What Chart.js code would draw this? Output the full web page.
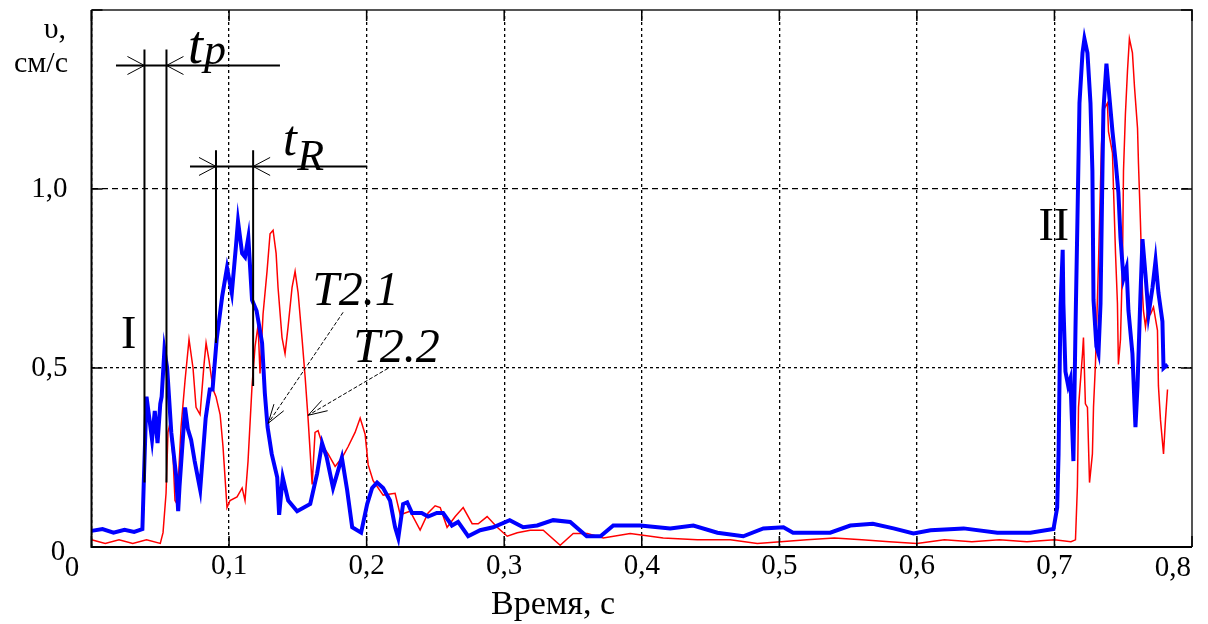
<!DOCTYPE html>
<html>
<head>
<meta charset="utf-8">
<script src="https://cdn.jsdelivr.net/npm/chart.js@4.4.0/dist/chart.umd.min.js"></script>
<style>
  html, body { margin: 0; padding: 0; background: #fff; }
  #wrap { width: 1208px; height: 624px; }
</style>
</head>
<body>
<div id="wrap"><canvas id="mycanvas" width="1208" height="624"></canvas></div>
<script>
// time, s  /  velocity, cm/s
var blueT = [
  0, 0.008, 0.016, 0.024, 0.031, 0.037, 0.038, 0.040, 0.042, 0.044,
  0.046, 0.048, 0.050, 0.051, 0.053, 0.055, 0.058, 0.0615, 0.063, 0.064,
  0.068, 0.070, 0.0724, 0.075, 0.079, 0.083, 0.086, 0.088, 0.091, 0.095,
  0.0985, 0.102, 0.105, 0.1065, 0.1095, 0.1116, 0.114, 0.1167, 0.120, 0.124,
  0.126, 0.128, 0.131, 0.135, 0.1364, 0.139, 0.143, 0.1495, 0.159, 0.164,
  0.1676, 0.171, 0.1756, 0.182, 0.1858, 0.1895, 0.196, 0.2004, 0.204, 0.2076,
  0.212, 0.217, 0.2207, 0.223, 0.2265, 0.2295, 0.233, 0.240, 0.2447, 0.251,
  0.2556, 0.262, 0.2665, 0.2738, 0.2825, 0.292, 0.304, 0.3138, 0.324, 0.3356,
  0.348, 0.360, 0.370, 0.3793, 0.3989, 0.4207, 0.4375, 0.455, 0.4738, 0.4884,
  0.503, 0.510, 0.537, 0.5516, 0.568, 0.583, 0.5975, 0.610, 0.634, 0.6585,
  0.6825, 0.6993, 0.702, 0.703, 0.7044, 0.706, 0.7065, 0.708, 0.710, 0.7116,
  0.7138, 0.7153, 0.7167, 0.7182, 0.7204, 0.7218, 0.724, 0.7262, 0.7276, 0.7284,
  0.7305, 0.732, 0.7335, 0.7349, 0.7356, 0.7378, 0.7393, 0.7422, 0.7444, 0.7465,
  0.748, 0.7502, 0.7524, 0.7538, 0.7567, 0.7589, 0.7604, 0.7625, 0.764, 0.7662,
  0.7684, 0.7713, 0.7735, 0.7756, 0.7785, 0.7793, 0.7822
];
var blueV = [
  0.045, 0.05, 0.04, 0.048, 0.042, 0.05, 0.18, 0.42, 0.36, 0.30,
  0.38, 0.29, 0.40, 0.42, 0.55, 0.50, 0.32, 0.20, 0.10, 0.17,
  0.39, 0.33, 0.30, 0.24, 0.16, 0.36, 0.44, 0.44, 0.58, 0.70,
  0.78, 0.71, 0.84, 0.91, 0.82, 0.81, 0.865, 0.69, 0.66, 0.57,
  0.43, 0.335, 0.26, 0.195, 0.09, 0.195, 0.13, 0.10, 0.12, 0.205,
  0.29, 0.25, 0.165, 0.25, 0.16, 0.055, 0.04, 0.12, 0.165, 0.18,
  0.165, 0.13, 0.055, 0.025, 0.12, 0.125, 0.095, 0.095, 0.085, 0.095,
  0.095, 0.06, 0.07, 0.03, 0.047, 0.055, 0.075, 0.055, 0.06, 0.075,
  0.07, 0.03, 0.03, 0.06, 0.06, 0.052, 0.06, 0.04, 0.03, 0.052,
  0.055, 0.04, 0.04, 0.06, 0.065, 0.052, 0.038, 0.047, 0.052, 0.04,
  0.04, 0.05, 0.11, 0.26, 0.67, 0.83, 0.68, 0.49, 0.45, 0.47,
  0.24, 0.61, 0.91, 1.24, 1.38, 1.42, 1.38, 1.24, 1.05, 0.69,
  0.56, 0.54, 0.68, 1.05, 1.22, 1.35, 1.285, 1.16, 1.08, 0.99,
  0.865, 0.75, 0.78, 0.66, 0.54, 0.335, 0.45, 0.70, 0.86, 0.76,
  0.65, 0.725, 0.80, 0.71, 0.63, 0.50, 0.51
];
var redT = [
  0, 0.01, 0.02, 0.03, 0.04, 0.05, 0.052, 0.0542, 0.0556, 0.057,
  0.0593, 0.0607, 0.0622, 0.0651, 0.068, 0.0709, 0.0738, 0.076, 0.0789, 0.0818,
  0.0833, 0.0855, 0.0884, 0.0905, 0.0935, 0.0956, 0.0985, 0.1007, 0.1058, 0.1095,
  0.1116, 0.1138, 0.1167, 0.1189, 0.1211, 0.1225, 0.1247, 0.1276, 0.1298, 0.132,
  0.1342, 0.1356, 0.1385, 0.1407, 0.1429, 0.1458, 0.148, 0.1502, 0.1531, 0.1553,
  0.1575, 0.1604, 0.1625, 0.1647, 0.1684, 0.172, 0.1771, 0.1822, 0.1865, 0.1916,
  0.1953, 0.1989, 0.2011, 0.2047, 0.212, 0.2207, 0.2244, 0.2316, 0.2389, 0.2447,
  0.2498, 0.2535, 0.2585, 0.2644, 0.2702, 0.2767, 0.2811, 0.2876, 0.2949, 0.3022,
  0.3095, 0.3189, 0.3284, 0.3407, 0.3502, 0.3604, 0.372, 0.3916, 0.4156, 0.4404,
  0.4644, 0.484, 0.4985, 0.52, 0.54, 0.56, 0.58, 0.60, 0.62, 0.64,
  0.66, 0.68, 0.70, 0.712, 0.7153, 0.7167, 0.7175, 0.7204, 0.7211, 0.7225,
  0.724, 0.7255, 0.7276, 0.7284, 0.7298, 0.732, 0.7342, 0.7356, 0.7385, 0.7393,
  0.7422, 0.7429, 0.7444, 0.7458, 0.7465, 0.748, 0.7495, 0.7502, 0.7516, 0.7531,
  0.7545, 0.7567, 0.7582, 0.7604, 0.7611, 0.7625, 0.764, 0.7647, 0.7662, 0.7676,
  0.7698, 0.772, 0.7749, 0.7756, 0.7771, 0.7793, 0.7807, 0.7822
];
var redV = [
  0.02, 0.01, 0.02, 0.01, 0.02, 0.01, 0.04, 0.15, 0.32, 0.345,
  0.25, 0.13, 0.12, 0.335, 0.465, 0.58, 0.50, 0.39, 0.37, 0.51,
  0.57, 0.52, 0.44, 0.42, 0.37, 0.28, 0.11, 0.13, 0.14, 0.165,
  0.13, 0.24, 0.45, 0.56, 0.62, 0.485, 0.65, 0.77, 0.875, 0.885,
  0.82, 0.725, 0.585, 0.54, 0.615, 0.725, 0.77, 0.71, 0.58, 0.475,
  0.355, 0.175, 0.32, 0.325, 0.28, 0.26, 0.225, 0.25, 0.28, 0.32,
  0.36, 0.315, 0.23, 0.185, 0.145, 0.15, 0.09, 0.10, 0.047, 0.095,
  0.115, 0.11, 0.055, 0.085, 0.11, 0.065, 0.065, 0.085, 0.055, 0.03,
  0.04, 0.047, 0.047, 0.005, 0.038, 0.038, 0.025, 0.038, 0.025, 0.02,
  0.02, 0.01, 0.014, 0.02, 0.025, 0.02, 0.015, 0.01, 0.02, 0.015,
  0.02, 0.015, 0.02, 0.015, 0.02, 0.17, 0.39, 0.54, 0.585, 0.40,
  0.39, 0.18, 0.26, 0.39, 0.51, 0.79, 1.125, 1.22, 1.24, 1.16,
  1.10, 1.005, 0.82, 0.68, 0.51, 0.58, 0.80, 1.05, 1.21, 1.33,
  1.42, 1.38, 1.285, 1.17, 1.07, 0.91, 0.71, 0.66, 0.615, 0.66,
  0.65, 0.67, 0.605, 0.45, 0.355, 0.26, 0.355, 0.44
];
var xTicks = [0, 0.1, 0.2, 0.3, 0.4, 0.5, 0.6, 0.7, 0.8];
var yTicks = [0, 0.5, 1.0, 1.5];

// annotations in data units: t_p / t_R dimension lines and pointer arrows
var dimLines = [
  [0.0385, 1.39, 0.0385, 0.18], [0.0545, 1.39, 0.0545, 0.18], [0.0178, 1.345, 0.137, 1.345],
  [0.0905, 1.108, 0.0905, 0.57], [0.1175, 1.108, 0.1175, 0.45], [0.0716, 1.063, 0.2004, 1.063]
];
var dimArrows = [[0.0385, 1.345, 1], [0.0545, 1.345, -1], [0.0905, 1.063, 1], [0.1175, 1.063, -1]];
var pointers = [[0.1829, 0.6556, 0.1284, 0.3455], [0.2156, 0.4992, 0.1575, 0.3679]];
var notes = [
  {text: 'I', x: 0.0215, y: 0.5551, font: '46px "Liberation Serif"'},
  {text: 'II', x: 0.6884, y: 0.8567, font: '46px "Liberation Serif"'},
  {text: 'T2.1', x: 0.1604, y: 0.6751, font: 'italic 48px "Liberation Serif"'},
  {text: 'T2.2', x: 0.1902, y: 0.5159, font: 'italic 48px "Liberation Serif"'},
  {text: 't', x: 0.0702, y: 1.351, font: 'italic 54px "Liberation Serif"'},
  {text: 'p', x: 0.0818, y: 1.348, font: 'italic 44px "Liberation Serif"'},
  {text: 't', x: 0.1393, y: 1.0941, font: 'italic 50px "Liberation Serif"'},
  {text: 'R', x: 0.1495, y: 1.0522, font: 'italic 44px "Liberation Serif"'}
];

function fmt(v) { return v.toFixed(1).replace('.', ','); }
function pairs(t, v) {
  var out = [];
  for (var i = 0; i < t.length; i++) out.push({x: t[i], y: v[i]});
  return out;
}

var extras = {
  id: 'extras',
  afterDraw: function (chart) {
    var c = chart.ctx, a = chart.chartArea, xs = chart.scales.x, ys = chart.scales.y;
    var X = function (v) { return xs.getPixelForValue(v); };
    var Y = function (v) { return ys.getPixelForValue(v); };
    c.save();
    // frame + inner tick marks
    c.strokeStyle = '#000'; c.lineWidth = 2;
    c.beginPath();
    c.moveTo(a.left, a.top); c.lineTo(a.left, a.bottom); c.lineTo(a.right, a.bottom);
    c.stroke();
    c.strokeStyle = '#555';
    c.beginPath();
    c.moveTo(a.left, a.top); c.lineTo(a.right, a.top); c.lineTo(a.right, a.bottom);
    c.stroke();
    c.strokeStyle = '#000'; c.lineWidth = 1.5;
    c.beginPath();
    xTicks.forEach(function (v) {
      c.moveTo(X(v), a.bottom); c.lineTo(X(v), a.bottom - 11);
      c.moveTo(X(v), a.top); c.lineTo(X(v), a.top + 11);
    });
    yTicks.forEach(function (v) {
      c.moveTo(a.left, Y(v)); c.lineTo(a.left + 11, Y(v));
      c.moveTo(a.right, Y(v)); c.lineTo(a.right - 11, Y(v));
    });
    c.stroke();

    // dimension lines
    c.lineWidth = 2;
    c.beginPath();
    dimLines.forEach(function (l) { c.moveTo(X(l[0]), Y(l[1])); c.lineTo(X(l[2]), Y(l[3])); });
    c.stroke();
    c.lineWidth = 1;
    c.beginPath();
    dimArrows.forEach(function (d) {
      var px = X(d[0]), py = Y(d[1]);
      c.moveTo(px - d[2] * 17, py - 9); c.lineTo(px, py); c.lineTo(px - d[2] * 17, py + 9);
    });
    c.stroke();

    // pointer arrows
    c.lineWidth = 1;
    pointers.forEach(function (p) {
      var x1 = X(p[0]), y1 = Y(p[1]), x2 = X(p[2]), y2 = Y(p[3]);
      c.setLineDash([4, 2]);
      c.beginPath(); c.moveTo(x1, y1); c.lineTo(x2, y2); c.stroke();
      c.setLineDash([]);
      var ang = Math.atan2(y1 - y2, x1 - x2);
      c.beginPath();
      [-0.3, 0.3].forEach(function (da) {
        c.moveTo(x2, y2);
        c.lineTo(x2 + 20 * Math.cos(ang + da), y2 + 20 * Math.sin(ang + da));
      });
      c.stroke();
    });

    // labels
    c.fillStyle = '#000';
    c.textAlign = 'left'; c.textBaseline = 'alphabetic';
    notes.forEach(function (n) {
      c.font = n.font;
      c.fillText(n.text, X(n.x), Y(n.y));
    });

    // axis titles, the two zeros and the last x label (pulled inside the page)
    c.font = '29px "Liberation Serif"';
    c.textAlign = 'center'; c.textBaseline = 'middle';
    c.fillText('0', 58, 552);
    c.fillText('0', 72, 568);
    c.textAlign = 'right';
    c.fillText(fmt(xTicks[xTicks.length - 1]), X(xTicks[xTicks.length - 1]) - 1, 568);
    c.textAlign = 'center';
    c.font = '34px "Liberation Serif"';
    c.fillText('Время, с', 553, 605);
    c.textAlign = 'right'; c.textBaseline = 'alphabetic';
    c.font = '30px "Liberation Serif"';
    c.fillText('υ,', 66, 38);
    c.fillText('см/с', 68, 72);
    c.restore();
  }
};

var tickFont = {family: '"Liberation Serif"', size: 29};

var ctx = document.getElementById('mycanvas');
var graph = new Chart(ctx, {
  type: 'line',
  data: {
    datasets: [
      {
        label: 'T2.1',
        data: pairs(blueT, blueV),
        borderColor: '#0000ff',
        borderWidth: 4,
        pointRadius: 0,
        tension: 0,
        fill: false
      },
      {
        label: 'T2.2',
        data: pairs(redT, redV),
        borderColor: '#ff0000',
        borderWidth: 1.5,
        pointRadius: 0,
        tension: 0,
        fill: false
      }
    ]
  },
  options: {
    responsive: false,
    animation: false,
    devicePixelRatio: 1,
    layout: {padding: {left: 0, right: 16, top: 10, bottom: 0}},
    plugins: {legend: {display: false}, tooltip: {enabled: false}},
    scales: {
      x: {
        type: 'linear', min: 0, max: 0.8,
        afterBuildTicks: function (s) { s.ticks = xTicks.map(function (v) { return {value: v}; }); },
        ticks: {
          color: '#000', font: tickFont, padding: 2, maxRotation: 0, autoSkip: false,
          callback: function (v) { return (v === 0 || v === 0.8) ? '' : fmt(v); }
        },
        grid: {color: '#000', lineWidth: 1.3, drawTicks: false},
        border: {display: false, dash: [3, 3]},
        afterFit: function (s) { s.height = 77; s.paddingLeft = 0; s.paddingRight = 0; }
      },
      y: {
        min: 0, max: 1.5,
        afterBuildTicks: function (s) { s.ticks = yTicks.map(function (v) { return {value: v}; }); },
        ticks: {
          color: '#000', font: tickFont, padding: 24,
          callback: function (v) { return (v === 0 || v === 1.5) ? '' : fmt(v); }
        },
        grid: {color: '#000', lineWidth: 1.3, drawTicks: false},
        border: {
          display: false,
          dash: function (c) { return (c.tick && c.tick.value === 1) ? [6, 4] : [3, 3]; }
        },
        afterFit: function (s) { s.width = 91.5; s.paddingTop = 0; s.paddingBottom = 0; }
      }
    }
  },
  plugins: [extras]
});
</script>
</body>
</html>
